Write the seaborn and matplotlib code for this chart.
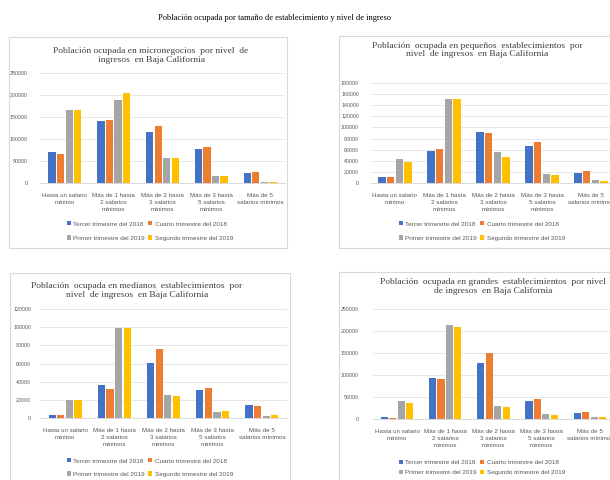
import matplotlib
matplotlib.use("Agg")
import matplotlib.pyplot as plt
from matplotlib.patches import Rectangle
import seaborn as sns
import pandas as pd

# ---------------- data ----------------
categorias = ["Hasta un salario\nmínimo", "Más de 1 hasta\n2 salarios\nmínimos",
              "Más de 2 hasta\n3 salarios\nmínimos", "Más de 3 hasta\n5 salarios\nmínimos",
              "Más de 5\nsalarios mínimos"]
series = ["Tercer trimestre del 2018", "Cuarto trimestre del 2018",
          "Primer trimestre del 2019", "Segundo trimestre del 2019"]
colores = ["#4472C4", "#ED7D31", "#A5A5A5", "#FFC000"]

# micronegocios
micro_t3_2018 = [70000, 142000, 115000, 77000, 22000]
micro_t4_2018 = [67000, 144000, 130000, 82000, 25000]
micro_t1_2019 = [165000, 189000, 56000, 17000, 2000]
micro_t2_2019 = [165000, 205000, 57000, 17000, 3000]

# pequeños establecimientos
peq_t3_2018 = [10000, 58000, 91000, 66000, 18000]
peq_t4_2018 = [10000, 62000, 90000, 73000, 22000]
peq_t1_2019 = [43000, 151000, 55000, 16000, 6000]
peq_t2_2019 = [38000, 152000, 46000, 14000, 3000]

# medianos establecimientos
med_t3_2018 = [3500, 36000, 61000, 31000, 14800]
med_t4_2018 = [3000, 32000, 76000, 32500, 13000]
med_t1_2019 = [20000, 99000, 25500, 6600, 2000]
med_t2_2019 = [20000, 99000, 24400, 8000, 3000]

# grandes establecimientos
gra_t3_2018 = [5000, 94000, 127000, 42000, 14000]
gra_t4_2018 = [3000, 91000, 150000, 45000, 16000]
gra_t1_2019 = [40000, 213000, 29000, 11000, 4000]
gra_t2_2019 = [36000, 210000, 27000, 10000, 5000]

titulo_general = "Población ocupada por tamaño de establecimiento y nivel de ingreso"
titulos = ["Población ocupada en micronegocios  por nivel  de\ningresos  en Baja California",
           "Población  ocupada en pequeños  establecimientos  por\nnivel  de ingresos  en Baja California",
           "Población  ocupada en medianos  establecimientos  por\nnivel  de ingresos  en Baja California",
           "Población  ocupada en grandes  establecimientos  por nivel\nde ingresos  en Baja California"]

yticks_list = [list(range(0, 250001, 50000)), list(range(0, 180001, 20000)),
               list(range(0, 120001, 20000)), list(range(0, 250001, 50000))]

# --------------- figure ----------------
sns.set_theme(style="white")
plt.rcParams['font.family'] = ['Liberation Sans', 'DejaVu Sans']

W, H = 610, 480
fig = plt.figure(figsize=(6.1, 4.8), dpi=100)
fig.patch.set_facecolor("white")


def fx(px):
    return px / W


def fy(py):
    return 1 - py / H


fig.text(fx(274), fy(18), titulo_general, ha="center", va="center",
         fontsize=6, family="Liberation Serif", color="#000000")

# panel frames (px: x0, y0, x1, y1)
frames = [(9, 37, 287, 248), (339, 36, 615, 248), (10, 273, 290, 485), (339, 272, 615, 485)]
for x0, y0, x1, y1 in frames:
    fig.patches.append(Rectangle((fx(x0), fy(y1)), fx(x1 - x0), (y1 - y0) / H,
                                 transform=fig.transFigure, fill=False,
                                 edgecolor="#D9D9D9", lw=0.8))

# axes rects in px: left, top, right, bottom
ax_px = [(40.5, 73, 284.5, 183), (370.5, 83, 615.5, 183),
         (40.5, 309, 286.5, 418), (372.9, 309, 614.0, 419)]
ypads = [9.5, 8.3, 6.8, 10.0]
title_pos = [(151, 55.5), (477, 50), (137, 290.5), (493, 286.5)]
legend_pos = [(150, 231, 1.4), (482, 231, 1.4), (150, 467.5, 1.25), (482, 467.5, 0.75)]

datos = [
    [micro_t3_2018, micro_t4_2018, micro_t1_2019, micro_t2_2019],
    [peq_t3_2018, peq_t4_2018, peq_t1_2019, peq_t2_2019],
    [med_t3_2018, med_t4_2018, med_t1_2019, med_t2_2019],
    [gra_t3_2018, gra_t4_2018, gra_t1_2019, gra_t2_2019],
]

for i in range(4):
    l, t, r, b = ax_px[i]
    ax = fig.add_axes([fx(l), fy(b), (r - l) / W, (b - t) / H])
    rows = []
    for s, vals in zip(series, datos[i]):
        for c, v in zip(categorias, vals):
            rows.append({"cat": c, "serie": s, "val": v})
    df = pd.DataFrame(rows)
    sns.barplot(data=df, x="cat", y="val", hue="serie", order=categorias,
                hue_order=series, palette=colores, saturation=1, width=0.7,
                gap=0.15, linewidth=0, ax=ax, errorbar=None)
    handles, labels = ax.get_legend_handles_labels()
    if ax.get_legend() is not None:
        ax.get_legend().remove()
    yt = yticks_list[i]
    ax.set_ylim(0, yt[-1])
    ax.set_yticks(yt)
    ax.set_yticklabels([str(v) for v in yt], fontsize=3.8, color="#595959")
    ax.set_xlim(-0.5, 4.5)
    ax.set_xticks(range(5))
    ax.set_xticklabels(categorias, fontsize=4.5, color="#595959", linespacing=1.5)
    ax.set_xlabel("")
    ax.set_ylabel("")
    ax.tick_params(axis="y", length=0, pad=ypads[i])
    ax.tick_params(axis="x", length=0, pad=7)
    for sp in ["top", "right", "left"]:
        ax.spines[sp].set_visible(False)
    ax.spines["bottom"].set_color("#D9D9D9")
    ax.spines["bottom"].set_linewidth(0.7)
    ax.yaxis.grid(True, color="#E3E3E3", lw=0.6)
    ax.set_axisbelow(True)
    ax.set_facecolor("none")

    tx, ty = title_pos[i]
    fig.text(fx(tx), fy(ty), titulos[i], ha="center", va="center",
             fontsize=6.8, family="Liberation Serif", color="#404040",
             linespacing=1.15)

    # row-wise order: Tercer, Cuarto / Primer, Segundo
    idx = [0, 2, 1, 3]
    lx, ly, lsp = legend_pos[i]
    fig.legend([handles[k] for k in idx], [labels[k] for k in idx],
               loc="center", bbox_to_anchor=(fx(lx), fy(ly)),
               bbox_transform=fig.transFigure, ncol=2, frameon=False,
               fontsize=4.6, handlelength=0.6, handleheight=0.6,
               handletextpad=0.4, columnspacing=0.5, labelspacing=lsp,
               labelcolor="#595959")

fig.savefig("out.png", dpi=100, facecolor="white")
